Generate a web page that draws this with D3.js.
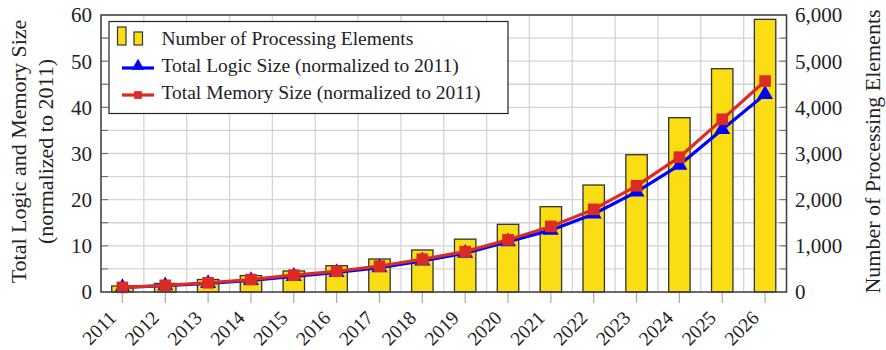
<!DOCTYPE html>
<html>
<head>
<meta charset="utf-8">
<script src="https://cdn.jsdelivr.net/npm/d3@7"></script>
<style>
  body { margin: 0; background: #fff; }
  text { font-family: "Liberation Serif", "Times New Roman", serif; fill: #222; }
</style>
</head>
<body>
<svg id="chart" width="886" height="350"></svg>
<script>
// Projection of processing elements and normalized logic / memory size
const years = ["2011","2012","2013","2014","2015","2016","2017","2018","2019","2020","2021","2022","2023","2024","2025","2026"];
const processingElements = [130, 185, 270, 355, 455, 570, 715, 910, 1145, 1466, 1848, 2317, 2974, 3776, 4837, 5906];
const logicSize  = [1, 1.35, 1.85, 2.5, 3.4, 4.25, 5.25, 6.75, 8.4, 10.9, 13.4, 16.9, 21.7, 27.5, 35.2, 42.8];
const memorySize = [1, 1.45, 2.0, 2.7, 3.65, 4.5, 5.6, 7.1, 8.75, 11.3, 14.2, 17.9, 23.0, 29.2, 37.4, 45.7];
const leftTicks  = [0, 10, 20, 30, 40, 50, 60];
const rightTicks = [0, 1000, 2000, 3000, 4000, 5000, 6000];
const leftTitle  = ["Total Logic and Memory Size", "(normalized to 2011)"];
const rightTitle = "Number of Processing Elements";
const legendLabels = ["Number of Processing Elements", "Total Logic Size (normalized to 2011)", "Total Memory Size (normalized to 2011)"];

const svg = d3.select("#chart");
const plot = { left: 101, right: 786.5, top: 15, bottom: 292 };

const x = d3.scaleBand().domain(years).range([plot.left, plot.right]).padding(0);
const yL = d3.scaleLinear().domain([0, 60]).range([plot.bottom, plot.top]);
const yR = d3.scaleLinear().domain([0, 6000]).range([plot.bottom, plot.top]);
const cx = d => x(d) + x.bandwidth() / 2;

const barColor = "#FBDD14", blue = "#0000FF", red = "#DC2B22";

// grid
const grid = svg.append("g").attr("stroke", "#d4d4d4").attr("stroke-width", 1.3);
grid.selectAll("line.v").data(years.slice(1)).join("line")
  .attr("x1", d => x(d)).attr("x2", d => x(d))
  .attr("y1", plot.top).attr("y2", plot.bottom);
grid.selectAll("line.h").data(d3.range(5, 60, 5)).join("line")
  .attr("x1", plot.left).attr("x2", plot.right)
  .attr("y1", d => yL(d)).attr("y2", d => yL(d));

// inner ticks on left and right frames
const tk = svg.append("g").attr("stroke", "#666").attr("stroke-width", 1);
tk.selectAll("line.l").data(d3.range(5, 60, 5)).join("line")
  .attr("x1", plot.left).attr("x2", plot.left + 7)
  .attr("y1", d => yL(d)).attr("y2", d => yL(d));
tk.selectAll("line.r").data(d3.range(5, 60, 5)).join("line")
  .attr("x1", plot.right - 7).attr("x2", plot.right)
  .attr("y1", d => yL(d)).attr("y2", d => yL(d));

// bottom ticks
svg.append("g").attr("stroke", "#aaa").attr("stroke-width", 1.2)
  .selectAll("line").data(years).join("line")
  .attr("x1", d => cx(d)).attr("x2", d => cx(d))
  .attr("y1", plot.bottom).attr("y2", plot.bottom + 11);

// bars
const bw = x.bandwidth() * 0.5;
svg.append("g").selectAll("rect").data(years).join("rect")
  .attr("x", d => cx(d) - bw / 2)
  .attr("width", bw)
  .attr("y", (d, i) => yR(processingElements[i]))
  .attr("height", (d, i) => yR(0) - yR(processingElements[i]))
  .attr("fill", barColor).attr("stroke", "#333").attr("stroke-width", 1.3);

// lines
function series(vals, color, shape, size) {
  const line = d3.line().x((d, i) => cx(years[i])).y(d => yL(d));
  svg.append("path").datum(vals).attr("d", line)
    .attr("fill", "none").attr("stroke", color).attr("stroke-width", 3.2).attr("stroke-linejoin", "round");
  const sym = d3.symbol().type(shape).size(size);
  svg.append("g").selectAll("path").data(vals).join("path")
    .attr("d", sym)
    .attr("transform", (d, i) => `translate(${cx(years[i])},${yL(d)})`)
    .attr("fill", color);
}
series(logicSize, blue, d3.symbolTriangle, 110);
series(memorySize, red, d3.symbolSquare, 135);

// frame
svg.append("rect").attr("x", plot.left).attr("y", plot.top)
  .attr("width", plot.right - plot.left).attr("height", plot.bottom - plot.top)
  .attr("fill", "none").attr("stroke", "#444").attr("stroke-width", 1.6);

// left tick labels
svg.append("g").selectAll("text").data(leftTicks).join("text")
  .attr("x", 92).attr("y", d => yL(d)).attr("dy", "0.35em")
  .attr("text-anchor", "end").attr("font-size", 21).text(d => d);

// right tick labels
const fmt = d3.format(",");
svg.append("g").selectAll("text").data(rightTicks).join("text")
  .attr("x", 795).attr("y", d => yR(d)).attr("dy", "0.35em")
  .attr("text-anchor", "start").attr("font-size", 21).text(d => fmt(d));

// x tick labels
svg.append("g").selectAll("text").data(years).join("text")
  .attr("transform", d => `translate(${cx(d) - 5},${plot.bottom + 27}) rotate(-45)`)
  .attr("text-anchor", "end")
  .attr("font-size", 19.5).text(d => d);

// axis titles
const midY = (plot.top + plot.bottom) / 2 - 2;
leftTitle.forEach((t, i) => {
  svg.append("text").attr("transform", `translate(${26 + i * 27},${midY}) rotate(-90)`)
    .attr("text-anchor", "middle").attr("font-size", 22).text(t);
});
svg.append("text").attr("transform", `translate(880,${midY}) rotate(-90)`)
  .attr("text-anchor", "middle").attr("font-size", 22).text(rightTitle);

// legend
const lg = svg.append("g");
lg.append("rect").attr("x", 109).attr("y", 21.5).attr("width", 399).attr("height", 92)
  .attr("fill", "#fff").attr("stroke", "#222").attr("stroke-width", 1.2);
lg.append("rect").attr("x", 117.5).attr("y", 27).attr("width", 8.5).attr("height", 18)
  .attr("fill", barColor).attr("stroke", "#333").attr("stroke-width", 1.2);
lg.append("rect").attr("x", 134).attr("y", 32).attr("width", 8.5).attr("height", 13)
  .attr("fill", barColor).attr("stroke", "#333").attr("stroke-width", 1.2);
lg.append("line").attr("x1", 122).attr("x2", 154).attr("y1", 68).attr("y2", 68)
  .attr("stroke", blue).attr("stroke-width", 3.2);
lg.append("path").attr("d", d3.symbol().type(d3.symbolTriangle).size(70)())
  .attr("transform", "translate(138,66)").attr("fill", blue);
lg.append("line").attr("x1", 122).attr("x2", 154).attr("y1", 95).attr("y2", 95)
  .attr("stroke", red).attr("stroke-width", 3.2);
lg.append("path").attr("d", d3.symbol().type(d3.symbolSquare).size(60)())
  .attr("transform", "translate(138,95)").attr("fill", red);
lg.selectAll("text.l").data(legendLabels).join("text")
  .attr("x", 161.5).attr("y", (d, i) => [45, 72, 99.3][i])
  .attr("font-size", 19.5).text(d => d);
</script>
</body>
</html>
